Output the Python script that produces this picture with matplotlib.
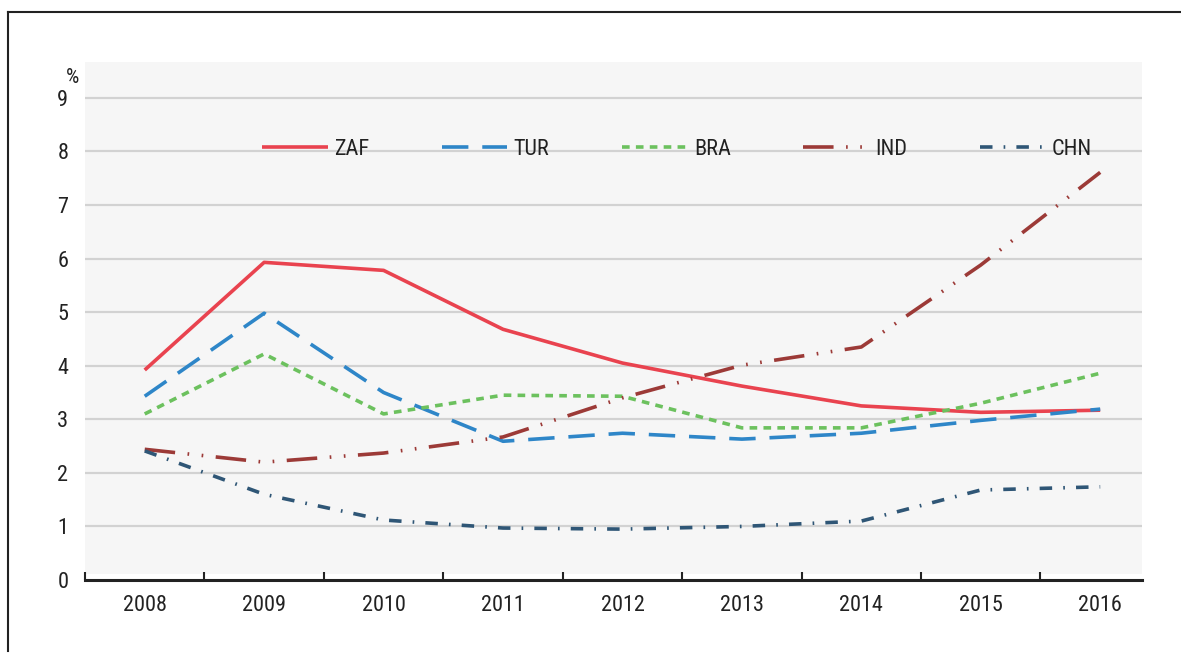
import matplotlib
matplotlib.use("Agg")
import matplotlib.pyplot as plt
from matplotlib.lines import Line2D
import numpy as np

plt.rcParams['font.family'] = ['Roboto Condensed', 'DejaVu Sans']
plt.rcParams['lines.scale_dashes'] = False

years = ['2008', '2009', '2010', '2011', '2012', '2013', '2014', '2015', '2016']
zaf = [3.92, 5.93, 5.78, 4.68, 4.05, 3.62, 3.25, 3.13, 3.17]
tur = [3.43, 4.98, 3.50, 2.59, 2.74, 2.63, 2.74, 2.98, 3.19]
bra = [3.10, 4.22, 3.10, 3.45, 3.43, 2.84, 2.84, 3.30, 3.86]
ind = [2.44, 2.20, 2.37, 2.67, 3.40, 4.01, 4.35, 5.88, 7.61]
chn = [2.41, 1.60, 1.12, 0.97, 0.95, 1.00, 1.10, 1.68, 1.74]
y_ticks = [0, 1, 2, 3, 4, 5, 6, 7, 8, 9]

W, H = 1181, 653
fig = plt.figure(figsize=(W / 100, H / 100), dpi=100)
fig.patch.set_facecolor('white')

ax_l, ax_r, ax_t, ax_b = 85, 1142, 62, 580
ax = fig.add_axes([ax_l / W, 1 - ax_b / H, (ax_r - ax_l) / W, (ax_b - ax_t) / H])
ax.set_facecolor('white')

x = np.arange(len(years))
ax.set_xlim(-0.5, 8.35)
ax.set_ylim(0, 9.67)
ax.axhspan(0.12, 9.67, color='#f6f6f6', zorder=0, lw=0)

for v in y_ticks[1:]:
    ax.axhline(v, color='#d2d2d2', lw=1.6, zorder=1)

txt = '#222222'
series = [
    ('ZAF', zaf, '#e9434f', (0, ())),
    ('TUR', tur, '#2e86c8', (0, (19, 10))),
    ('BRA', bra, '#6cc15e', (0, (5.5, 4.5))),
    ('IND', ind, '#9c3a37', (0, (22, 9, 1.2, 9, 1.2, 9))),
    ('CHN', chn, '#2f5676', (0, (9, 8, 1.2, 8))),
]
handles = []
for name, vals, col, ls in series:
    ln, = ax.plot(x, vals, color=col, lw=2.6, linestyle=ls, label=name,
                  zorder=3, solid_capstyle='butt', dash_capstyle='butt')
    handles.append(ln)

leg = ax.legend(handles=handles, loc='center left', bbox_to_anchor=(0.1675, 0.832),
                ncol=5, frameon=False, fontsize=16, handlelength=2.95,
                handletextpad=0.3, columnspacing=3.25, borderpad=0, borderaxespad=0)
for t in leg.get_texts():
    t.set_color(txt)

# axes styling
for s in ['left', 'right', 'top']:
    ax.spines[s].set_visible(False)
ax.spines['bottom'].set_color(txt)
ax.spines['bottom'].set_linewidth(2.2)

ax.set_xticks(x)
ax.set_xticklabels(years)
ax.set_xticks(np.arange(-0.5, 8, 1.0), minor=True)
ax.tick_params(axis='x', which='major', length=0, pad=11, labelsize=16, labelcolor=txt)
ax.tick_params(axis='x', which='minor', length=6, width=1.5, direction='in', color=txt)
ax.set_yticks(y_ticks)
ax.tick_params(axis='y', length=0, pad=12, labelsize=16, labelcolor=txt)

ax.text(-0.5 - 12 / 119.4, 9.0 + 20 / 53.6, '%', ha='center', va='center',
        fontsize=15, color=txt)

# outer border (top and left)
fig.add_artist(Line2D([8 / W, 1.0], [1 - 12 / H, 1 - 12 / H], transform=fig.transFigure,
                      color='#222222', lw=1.5))
fig.add_artist(Line2D([8 / W, 8 / W], [1 - 12 / H, 1 - 651 / H], transform=fig.transFigure,
                      color='#222222', lw=1.5))

fig.savefig('out.png', dpi=100)
